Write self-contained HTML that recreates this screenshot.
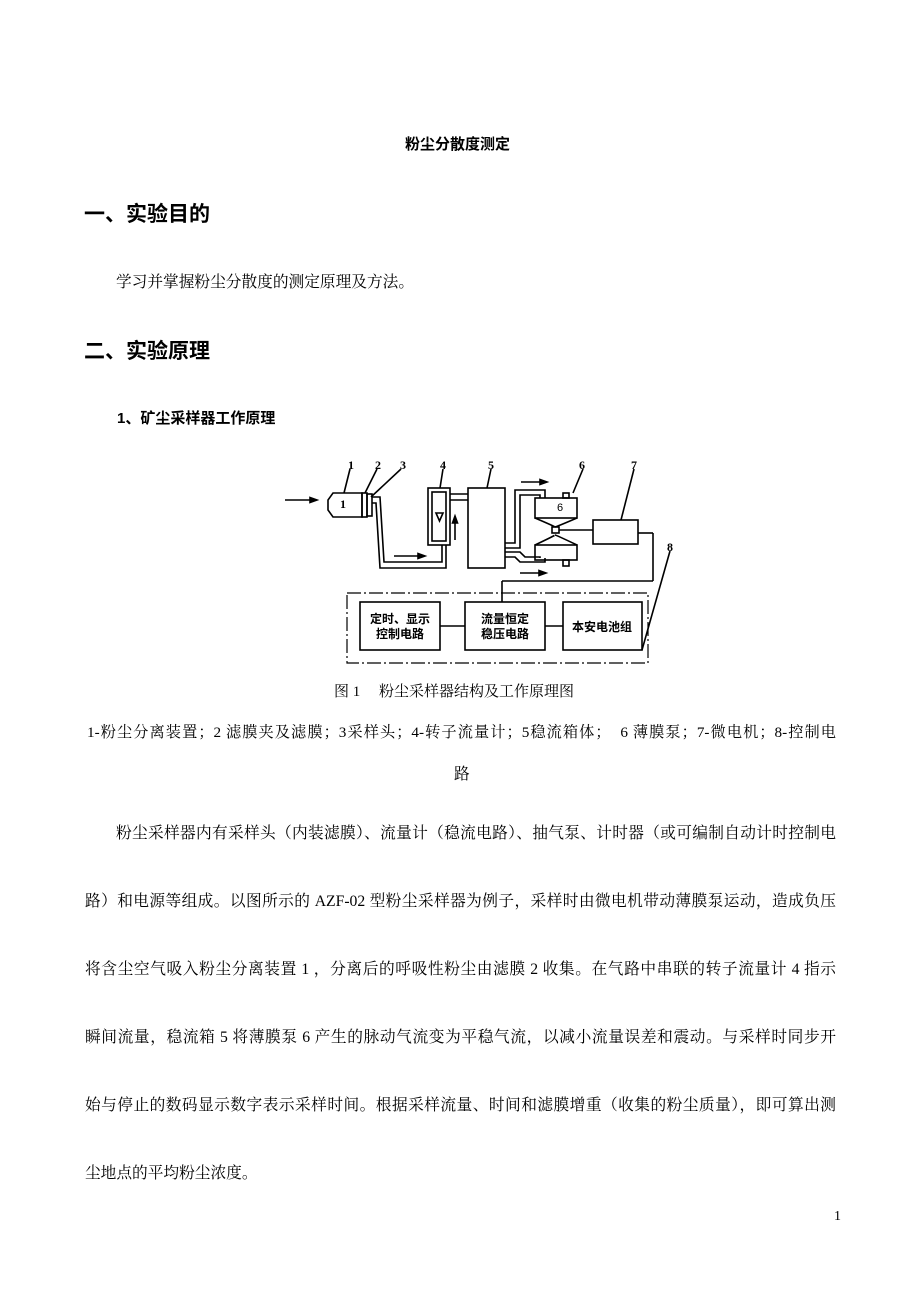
<!DOCTYPE html>
<html><head><meta charset="utf-8">
<style>
html,body{margin:0;padding:0;background:#fff;}
body{width:920px;height:1302px;position:relative;overflow:hidden;font-family:"Liberation Serif","Noto Serif CJK SC","Noto Sans CJK SC",serif;color:#000;}
.t{position:absolute;white-space:nowrap;line-height:1;}
.b{font-family:"Liberation Sans","Noto Sans CJK SC",sans-serif;font-weight:bold;}
.p{font-size:15.7px;}
.j{white-space:normal;text-align:justify;text-align-last:justify;text-justify:inter-character;}
</style></head><body>
<div class="t b" style="left:405px;top:137px;font-size:15px;">粉尘分散度测定</div>
<div class="t b" style="left:84px;top:204px;font-size:21px;">一、实验目的</div>
<div class="t p" style="left:116px;top:275px;">学习并掌握粉尘分散度的测定原理及方法。</div>
<div class="t b" style="left:84px;top:341px;font-size:21px;">二、实验原理</div>
<div class="t b" style="left:117px;top:411px;font-size:15px;">1、矿尘采样器工作原理</div>

<svg style="position:absolute;left:0;top:0" width="920" height="700" viewBox="0 0 920 700">
<g fill="none" stroke="#000" stroke-width="1.6">
<line x1="285" y1="500" x2="314" y2="500"/>
<polygon points="317,500 310,497.5 310,502.5" fill="#000"/>
<path d="M333,493 L362,493 L362,517 L333,517 L328,510 L328,500 Z"/>
<rect x="362" y="493" width="5" height="24"/>
<rect x="367" y="494" width="5" height="22"/>
<path d="M372,497 L380,497 L384,562 L442,562 L442,545"/>
<path d="M372,503 L376,503 L380,568 L446,568 L446,545"/>
<line x1="394" y1="556" x2="420" y2="556"/>
<polygon points="425,556 418,553.5 418,558.5" fill="#000"/>
<rect x="428" y="488" width="22" height="57"/>
<rect x="432" y="492" width="14" height="49"/>
<polygon points="436,513 443,513 439.5,521"/>
<line x1="455" y1="540" x2="455" y2="520"/>
<polygon points="455,516 452.5,523 457.5,523" fill="#000"/>
<line x1="450" y1="494" x2="468" y2="494"/>
<line x1="450" y1="500" x2="468" y2="500"/>
<rect x="468" y="488" width="37" height="80"/>
<path d="M505,543 L515,543 L515,490 L545,490 L545,498"/>
<path d="M505,548 L520,548 L520,495 L540,495 L540,498"/>
<line x1="521" y1="482" x2="542" y2="482"/>
<polygon points="547,482 540,479.5 540,484.5" fill="#000"/>
<path d="M505,557 L515,557 L520,562 L545,562 L545,558"/>
<path d="M505,552 L520,552 L525,557 L540,557 L540,558"/>
<line x1="520" y1="573" x2="541" y2="573"/>
<polygon points="546,573 539,570.5 539,575.5" fill="#000"/>
<rect x="535" y="498" width="42" height="20"/>
<rect x="563" y="493" width="6" height="5"/>
<path d="M535,518 Q556,527 555,527 Q556,527 577,518"/>
<rect x="552" y="527" width="7" height="6"/>
<path d="M535,545 Q556,535 555,535 Q556,535 577,545"/>
<rect x="535" y="545" width="42" height="15"/>
<rect x="563" y="560" width="6" height="6"/>
<line x1="559" y1="530" x2="593" y2="530"/>
<rect x="593" y="520" width="45" height="24"/>
<line x1="638" y1="533" x2="653" y2="533"/>
<line x1="653" y1="533" x2="653" y2="581"/>
<line x1="653" y1="581" x2="502" y2="581"/>
<line x1="502" y1="581" x2="502" y2="602"/>
<line x1="350" y1="469" x2="344" y2="493"/>
<line x1="377" y1="469" x2="365" y2="493"/>
<line x1="401" y1="469" x2="371" y2="497"/>
<line x1="443" y1="469" x2="440" y2="488"/>
<line x1="491" y1="469" x2="487" y2="488"/>
<line x1="583" y1="469" x2="573" y2="493"/>
<line x1="634" y1="469" x2="621" y2="520"/>
<line x1="670" y1="551" x2="642" y2="650"/>
<rect x="360" y="602" width="80" height="48"/>
<rect x="465" y="602" width="80" height="48"/>
<rect x="563" y="602" width="79" height="48"/>
<line x1="440" y1="626" x2="465" y2="626"/>
<line x1="545" y1="626" x2="563" y2="626"/>
</g>
<rect x="347" y="593" width="301" height="70" fill="none" stroke="#000" stroke-width="1.2" stroke-dasharray="14,3,2,3"/>
<g font-family="Liberation Serif,serif" font-size="12" font-weight="bold" text-anchor="middle">
<text x="351" y="469">1</text><text x="378" y="469">2</text><text x="403" y="469">3</text>
<text x="443" y="469">4</text><text x="491" y="469">5</text><text x="582" y="469">6</text>
<text x="634" y="469">7</text><text x="670" y="551">8</text>
<text x="343" y="508">1</text>
</g>
<g font-family="Liberation Sans,Noto Sans CJK SC,sans-serif" font-size="12" font-weight="bold" text-anchor="middle">
<text x="400" y="623">定时、显示</text><text x="400" y="638">控制电路</text>
<text x="505" y="623">流量恒定</text><text x="505" y="638">稳压电路</text>
<text x="602" y="631">本安电池组</text>
<text x="560" y="511" font-size="11" font-weight="normal">6</text>
</g>
</svg>

<div class="t p" style="left:334px;top:685px;font-size:15px;">图 1　 粉尘采样器结构及工作原理图</div>
<div class="t p j" style="left:87px;top:725px;width:749px;font-size:15.2px;">1-粉尘分离装置；2 滤膜夹及滤膜；3采样头；4-转子流量计；5稳流箱体；　6 薄膜泵；7-微电机；8-控制电</div>
<div class="t p" style="left:454px;top:767px;">路</div>

<div class="t p j" style="left:116px;top:826px;width:720px;">粉尘采样器内有采样头（内装滤膜）、流量计（稳流电路）、抽气泵、计时器（或可编制自动计时控制电</div>
<div class="t p j" style="left:85px;top:894px;width:751px;">路）和电源等组成。以图所示的 AZF-02 型粉尘采样器为例子，采样时由微电机带动薄膜泵运动，造成负压</div>
<div class="t p j" style="left:85px;top:962px;width:751px;">将含尘空气吸入粉尘分离装置 1 ，分离后的呼吸性粉尘由滤膜 2 收集。在气路中串联的转子流量计 4 指示</div>
<div class="t p j" style="left:85px;top:1030px;width:751px;">瞬间流量，稳流箱 5 将薄膜泵 6 产生的脉动气流变为平稳气流，以减小流量误差和震动。与采样时同步开</div>
<div class="t p j" style="left:85px;top:1098px;width:751px;">始与停止的数码显示数字表示采样时间。根据采样流量、时间和滤膜增重（收集的粉尘质量），即可算出测</div>
<div class="t p" style="left:85px;top:1166px;">尘地点的平均粉尘浓度。</div>
<div class="t" style="left:834px;top:1210px;font-size:14px;">1</div>
</body></html>
